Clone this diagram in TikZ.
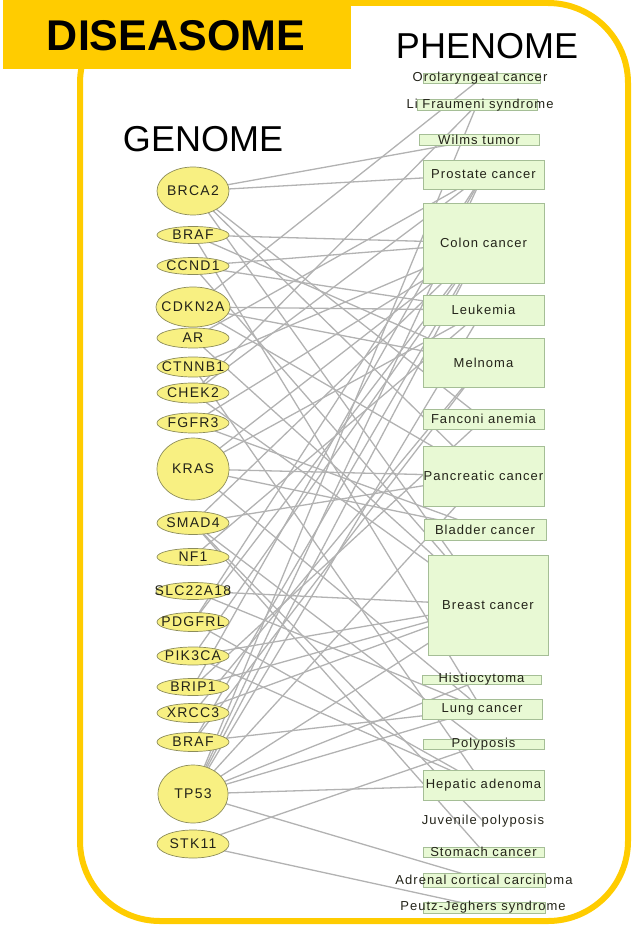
\documentclass[tikz,border=0pt]{standalone}
\usepackage{fontspec}
\setmainfont{Liberation Sans}
\newfontfamily\genefont[LetterSpace=9]{Liberation Sans}
\newfontfamily\phenofont[LetterSpace=8]{Liberation Sans}
\usetikzlibrary{shapes.geometric}
\pgfdeclarelayer{edges}
\pgfsetlayers{edges,main}

\definecolor{dsyellow}{RGB}{255,204,0}
\definecolor{genefill}{RGB}{248,240,130}
\definecolor{geneline}{RGB}{140,140,90}
\definecolor{phenofill}{RGB}{232,249,212}
\definecolor{phenoline}{RGB}{165,190,150}
\definecolor{edgegray}{RGB}{178,178,178}
\definecolor{labelink}{RGB}{35,35,25}

\tikzset{
  gene/.style={ellipse, draw=geneline, fill=genefill, line width=0.7pt, inner sep=0pt, minimum width=72pt},
  genelabel/.style={font=\genefont\fontsize{14}{15}\selectfont, text=labelink, inner sep=0pt},
  pheno/.style={rectangle, draw=phenoline, fill=phenofill, line width=0.6pt, inner sep=0pt},
  phenolabel/.style={font=\phenofont\fontsize{13}{14}\selectfont, text=labelink, inner sep=0pt},
  link/.style={draw=edgegray, line width=1.3pt},
  heading/.style={font=\fontsize{36}{40}\selectfont, inner sep=0pt}
}

\begin{document}
\begin{tikzpicture}[x=1pt,y=-1pt]
\useasboundingbox (0,0) rectangle (631,925);

% frame and title banner
\draw[dsyellow, line width=6pt, rounded corners=80pt] (80,3) rectangle (628,921);
\fill[dsyellow] (3,0) rectangle (351,69);
\node[font=\bfseries\fontsize{43}{46}\selectfont, inner sep=0pt] (title) at (176,36) {DISEASOME};
\node[heading] (phenome) at (487,46) {PHENOME};
\node[heading] (genome) at (203,139) {GENOME};

% genes
\node[gene, minimum height=48pt] (g1)  at (193,191) {};
\node[gene, minimum height=17pt] (g2)  at (193,235) {};
\node[gene, minimum height=17pt] (g3)  at (193,266) {};
\node[gene, minimum height=40pt, minimum width=74pt] (g4) at (193,307) {};
\node[gene, minimum height=20pt] (g5)  at (193,338) {};
\node[gene, minimum height=20pt] (g6)  at (193,367) {};
\node[gene, minimum height=20pt] (g7)  at (193,393) {};
\node[gene, minimum height=20pt] (g8)  at (193,423) {};
\node[gene, minimum height=62pt] (g9)  at (193,469) {};
\node[gene, minimum height=23pt] (g10) at (193,523) {};
\node[gene, minimum height=17pt] (g11) at (193,557) {};
\node[gene, minimum height=17pt, minimum width=74pt] (g12) at (193,591) {};
\node[gene, minimum height=19pt] (g13) at (193,622) {};
\node[gene, minimum height=18pt] (g14) at (193,656) {};
\node[gene, minimum height=17pt] (g15) at (193,687) {};
\node[gene, minimum height=19pt] (g16) at (193,713) {};
\node[gene, minimum height=19pt] (g17) at (193,742) {};
\node[gene, minimum height=58pt, minimum width=70pt] (g18) at (193,794) {};
\node[gene, minimum height=28pt] (g19) at (193,844) {};

\node[genelabel] (g1t)  at (g1)  {BRCA2};
\node[genelabel] (g2t)  at (g2)  {BRAF};
\node[genelabel] (g3t)  at (g3)  {CCND1};
\node[genelabel] (g4t)  at (g4)  {CDKN2A};
\node[genelabel] (g5t)  at (g5)  {AR};
\node[genelabel] (g6t)  at (g6)  {CTNNB1};
\node[genelabel] (g7t)  at (g7)  {CHEK2};
\node[genelabel] (g8t)  at (g8)  {FGFR3};
\node[genelabel] (g9t)  at (g9)  {KRAS};
\node[genelabel] (g10t) at (g10) {SMAD4};
\node[genelabel] (g11t) at (g11) {NF1};
\node[genelabel] (g12t) at (g12) {SLC22A18};
\node[genelabel] (g13t) at (g13) {PDGFRL};
\node[genelabel] (g14t) at (g14) {PIK3CA};
\node[genelabel] (g15t) at (g15) {BRIP1};
\node[genelabel] (g16t) at (g16) {XRCC3};
\node[genelabel] (g17t) at (g17) {BRAF};
\node[genelabel] (g18t) at (g18) {TP53};
\node[genelabel] (g19t) at (g19) {STK11};

% phenotypes
\node[pheno, minimum width=117pt, minimum height=10pt]  (p1)  at (481.5,78) {};
\node[pheno, minimum width=120pt, minimum height=11pt]  (p2)  at (477,104.5) {};
\node[pheno, minimum width=120pt, minimum height=11pt]  (p3)  at (479,139.5) {};
\node[pheno, minimum width=121pt, minimum height=29pt]  (p4)  at (483.5,174.5) {};
\node[pheno, minimum width=121pt, minimum height=80pt]  (p5)  at (483.5,243) {};
\node[pheno, minimum width=121pt, minimum height=30pt]  (p6)  at (483.5,310) {};
\node[pheno, minimum width=121pt, minimum height=49pt]  (p7)  at (483.5,362.5) {};
\node[pheno, minimum width=121pt, minimum height=20pt]  (p8)  at (483.5,419) {};
\node[pheno, minimum width=121pt, minimum height=60pt]  (p9)  at (483.5,476) {};
\node[pheno, minimum width=122pt, minimum height=21pt]  (p10) at (485,529.5) {};
\node[pheno, minimum width=120pt, minimum height=100pt] (p11) at (488,605) {};
\node[pheno, minimum width=119pt, minimum height=9pt]   (p12) at (481.5,679.5) {};
\node[pheno, minimum width=120pt, minimum height=20pt]  (p13) at (482,709) {};
\node[pheno, minimum width=121pt, minimum height=10pt]  (p14) at (483.5,744) {};
\node[pheno, minimum width=121pt, minimum height=30pt]  (p15) at (483.5,785) {};
\node[inner sep=0pt, minimum size=0pt] (p16) at (483,821) {};
\node[pheno, minimum width=121pt, minimum height=10pt]  (p17) at (483.5,852) {};
\node[pheno, minimum width=122pt, minimum height=14pt]  (p18) at (484,880) {};
\node[pheno, minimum width=122pt, minimum height=11pt]  (p19) at (484,907.5) {};

\node[phenolabel] (p1t)  at (480,78)  {Orolaryngeal cancer};
\node[phenolabel] (p2t)  at (480,105) {Li Fraumeni syndrome};
\node[phenolabel] (p3t)  at (479,140) {Wilms tumor};
\node[phenolabel] (p4t)  at (p4)  {Prostate cancer};
\node[phenolabel] (p5t)  at (p5)  {Colon cancer};
\node[phenolabel] (p6t)  at (p6)  {Leukemia};
\node[phenolabel] (p7t)  at (p7)  {Melnoma};
\node[phenolabel] (p8t)  at (p8)  {Fanconi anemia};
\node[phenolabel] (p9t)  at (p9)  {Pancreatic cancer};
\node[phenolabel] (p10t) at (p10) {Bladder cancer};
\node[phenolabel] (p11t) at (p11) {Breast cancer};
\node[phenolabel] (p12t) at (p12) {Histiocytoma};
\node[phenolabel] (p13t) at (p13) {Lung cancer};
\node[phenolabel] (p14t) at (p14) {Polyposis};
\node[phenolabel] (p15t) at (p15) {Hepatic adenoma};
\node[phenolabel] (p16t) at (p16) {Juvenile polyposis};
\node[phenolabel] (p17t) at (p17) {Stomach cancer};
\node[phenolabel] (p18t) at (p18) {Adrenal cortical carcinoma};
\node[phenolabel] (p19t) at (483,907) {Peutz-Jeghers syndrome};

% gene--disease associations
\begin{pgfonlayer}{edges}
\foreach \a/\b in {
  g1/p3, g1/p4, g1/p8, g1/p9, g1/p11,
  g2/p5, g2/p7, g2/p13,
  g3/p5, g3/p6, g3/p11,
  g4/p1, g4/p6, g4/p7, g4/p9,
  g5/p4, g5/p11,
  g6/p5, g6/p15,
  g7/p2, g7/p11, g7/p4,
  g8/p10, g8/p5,
  g9/p9, g9/p5, g9/p13, g9/p6, g9/p10,
  g10/p16, g10/p9, g10/p5, g10/p14, g10/p17,
  g11/p6,
  g12/p11, g12/p13,
  g13/p5, g13/p4, g13/p15,
  g14/p5, g14/p11, g14/p15,
  g15/p11, g15/p8, g15/p4,
  g16/p11, g16/p7,
  g17/p13, g17/p7, g17/p5,
  g18/p2, g18/p5, g18/p9, g18/p11, g18/p12, g18/p15, g18/p18, g18/p13, g18/p6, g18/p4,
  g19/p19, g19/p14}
  \draw[link] (\a.center) -- (\b.center);
\end{pgfonlayer}
\end{tikzpicture}
\end{document}
